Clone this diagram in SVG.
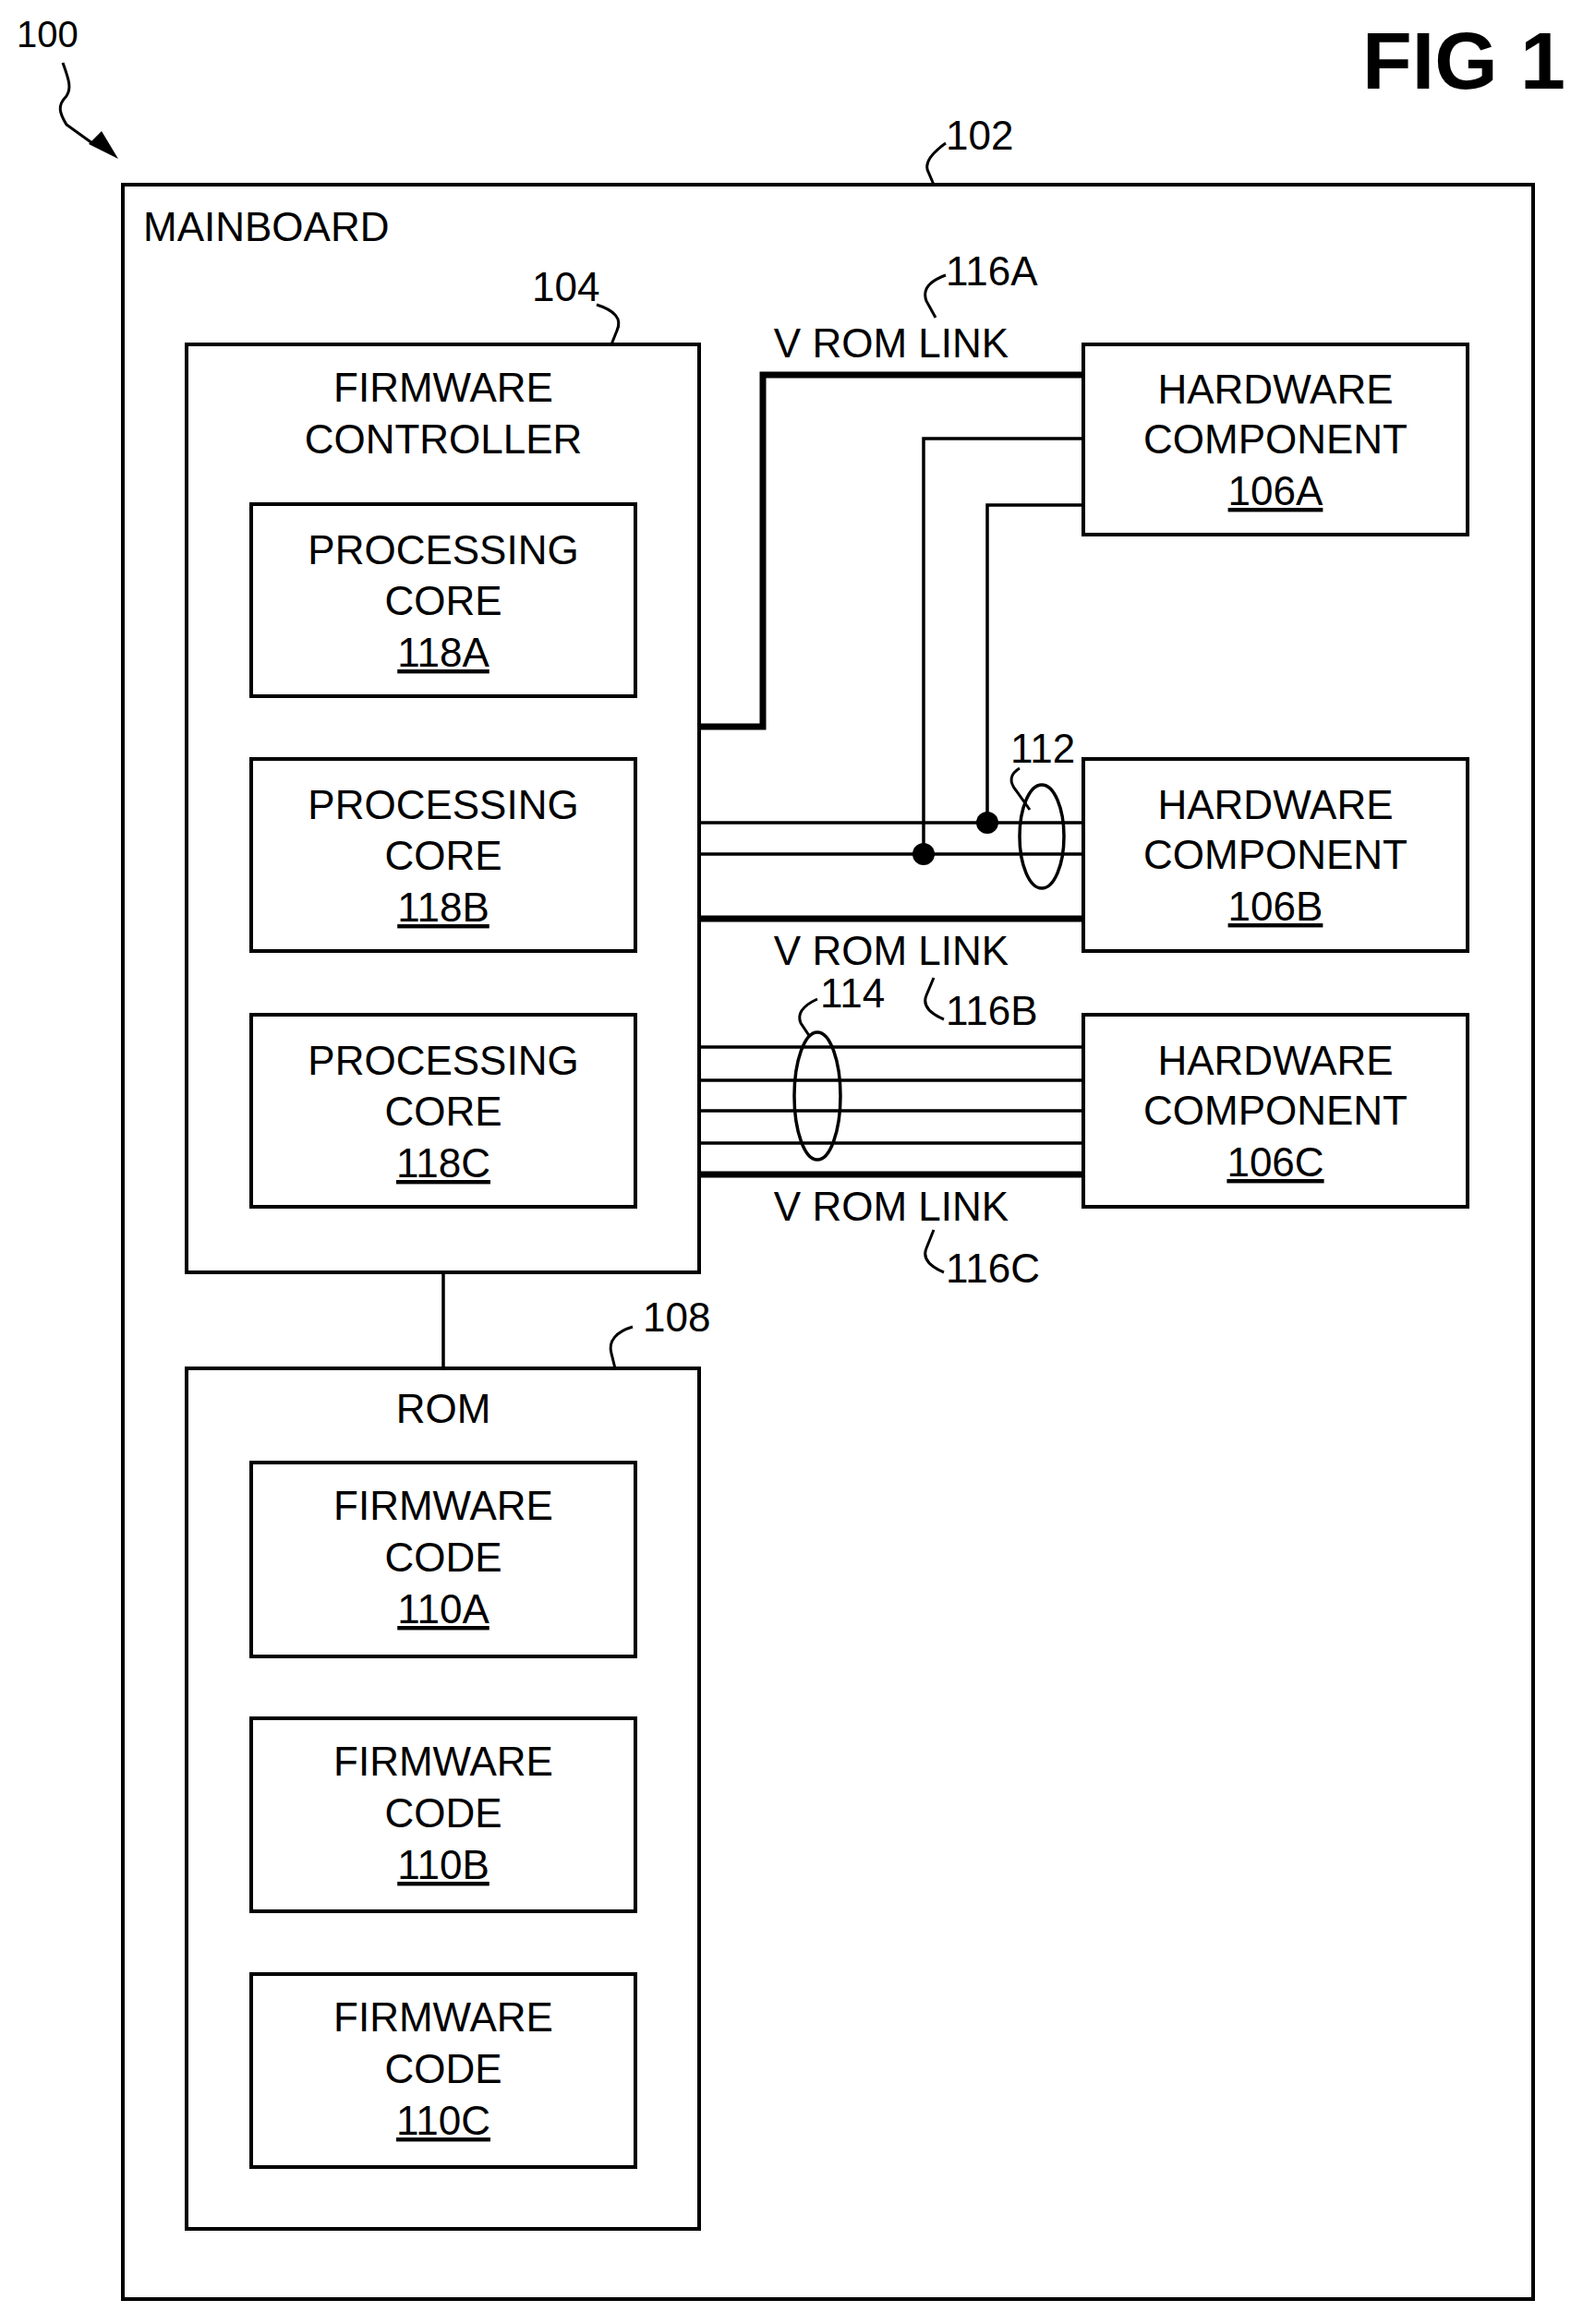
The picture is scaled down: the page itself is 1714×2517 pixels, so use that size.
<svg xmlns="http://www.w3.org/2000/svg" width="1714" height="2517" viewBox="0 0 1714 2517">
<style>
text{font-family:"Liberation Sans",Arial,sans-serif;font-size:44px;fill:#000}
.c{text-anchor:middle}
.u{text-decoration:underline}
.b{fill:none;stroke:#000;stroke-width:4}
.t{stroke:#000;stroke-width:3.5;fill:none}
.k{stroke:#000;stroke-width:7;fill:none}
.l{stroke:#000;stroke-width:3;fill:none}
</style>
<rect width="1714" height="2517" fill="#fff"/>
<text x="1475" y="96" style="font-weight:bold;font-size:88px">FIG 1</text>
<g id="ref100"><text x="18" y="51" style="font-size:40px">100</text>
<path class="l" d="M68,68 C74,85 78,95 72,104 C62,114 64,122 72,135 L104,158"/>
<path d="M128,172 L96,156 L110,142 Z" fill="#000"/></g>
<g id="mainboard"><rect class="b" x="133" y="200" width="1527" height="2290"/>
<text x="155" y="261">MAINBOARD</text>
<text x="1024" y="162">102</text><path class="l" d="M1024,155 C1010,165 1000,176 1005,186 L1011,200"/></g>
<g id="fwctrl"><rect class="b" x="202" y="373" width="555" height="1005"/>
<text class="c" x="480" y="435">FIRMWARE</text><text class="c" x="480" y="491">CONTROLLER</text>
<text x="576" y="326">104</text><path class="l" d="M646,330 C665,336 674,345 668,358 L662,373"/></g>
<g id="core118A"><rect class="b" x="272" y="546" width="416" height="208"/><text class="c" x="480" y="611">PROCESSING</text><text class="c" x="480" y="666">CORE</text><text class="c u" x="480" y="722">118A</text></g>
<g id="core118B"><rect class="b" x="272" y="822" width="416" height="208"/><text class="c" x="480" y="887">PROCESSING</text><text class="c" x="480" y="942">CORE</text><text class="c u" x="480" y="998">118B</text></g>
<g id="core118C"><rect class="b" x="272" y="1099" width="416" height="208"/><text class="c" x="480" y="1164">PROCESSING</text><text class="c" x="480" y="1219">CORE</text><text class="c u" x="480" y="1275">118C</text></g>
<g id="rom"><rect class="b" x="202" y="1482" width="555" height="932"/><text class="c" x="480" y="1541">ROM</text>
<text x="696" y="1442">108</text><path class="l" d="M685,1437 C668,1442 658,1452 662,1466 L666,1482"/></g>
<g id="fw110A"><rect class="b" x="272" y="1584" width="416" height="210"/><text class="c" x="480" y="1646">FIRMWARE</text><text class="c" x="480" y="1702">CODE</text><text class="c u" x="480" y="1758">110A</text></g>
<g id="fw110B"><rect class="b" x="272" y="1861" width="416" height="209"/><text class="c" x="480" y="1923">FIRMWARE</text><text class="c" x="480" y="1979">CODE</text><text class="c u" x="480" y="2035">110B</text></g>
<g id="fw110C"><rect class="b" x="272" y="2138" width="416" height="209"/><text class="c" x="480" y="2200">FIRMWARE</text><text class="c" x="480" y="2256">CODE</text><text class="c u" x="480" y="2312">110C</text></g>
<g id="hw106A"><rect class="b" x="1173" y="373" width="416" height="206"/><text class="c" x="1381" y="437">HARDWARE</text><text class="c" x="1381" y="491">COMPONENT</text><text class="c u" x="1381" y="547">106A</text></g>
<g id="hw106B"><rect class="b" x="1173" y="822" width="416" height="208"/><text class="c" x="1381" y="887">HARDWARE</text><text class="c" x="1381" y="941">COMPONENT</text><text class="c u" x="1381" y="997">106B</text></g>
<g id="hw106C"><rect class="b" x="1173" y="1099" width="416" height="208"/><text class="c" x="1381" y="1164">HARDWARE</text><text class="c" x="1381" y="1218">COMPONENT</text><text class="c u" x="1381" y="1274">106C</text></g>
<g id="connectors">
<path class="t" d="M480,1378 V1482"/>
<path class="k" d="M757,787 H826 V406 H1173"/>
<path class="t" d="M1173,475 H1000 V925"/>
<path class="t" d="M1173,547 H1069 V891"/>
<path class="t" d="M757,891 H1173 M757,925 H1173"/>
<path class="k" d="M757,995 H1173"/>
<circle cx="1000" cy="925" r="12"/><circle cx="1069" cy="891" r="12"/>
<ellipse class="t" cx="1128" cy="906" rx="24" ry="56"/>
<path class="t" d="M757,1134 H1173 M757,1170 H1173 M757,1203 H1173 M757,1238 H1173"/>
<path class="k" d="M757,1272 H1173"/>
<ellipse class="t" cx="885" cy="1187" rx="25" ry="69"/>
<text class="c" x="965" y="387">V ROM LINK</text>
<text class="c" x="965" y="1045">V ROM LINK</text>
<text class="c" x="965" y="1322">V ROM LINK</text>
<text x="1024" y="309">116A</text><path class="l" d="M1024,298 C1008,304 998,312 1003,326 L1013,344"/>
<text x="1024" y="1110">116B</text><path class="l" d="M1022,1104 C1008,1098 998,1090 1003,1078 L1011,1059"/>
<text x="1024" y="1389">116C</text><path class="l" d="M1022,1378 C1008,1372 998,1364 1003,1352 L1011,1332"/>
<text x="1094" y="826">112</text><path class="l" d="M1104,832 C1094,838 1092,846 1100,856 L1115,877"/>
<text x="888" y="1091">114</text><path class="l" d="M885,1082 C872,1088 862,1096 867,1108 L877,1123"/>
</g>
</svg>
